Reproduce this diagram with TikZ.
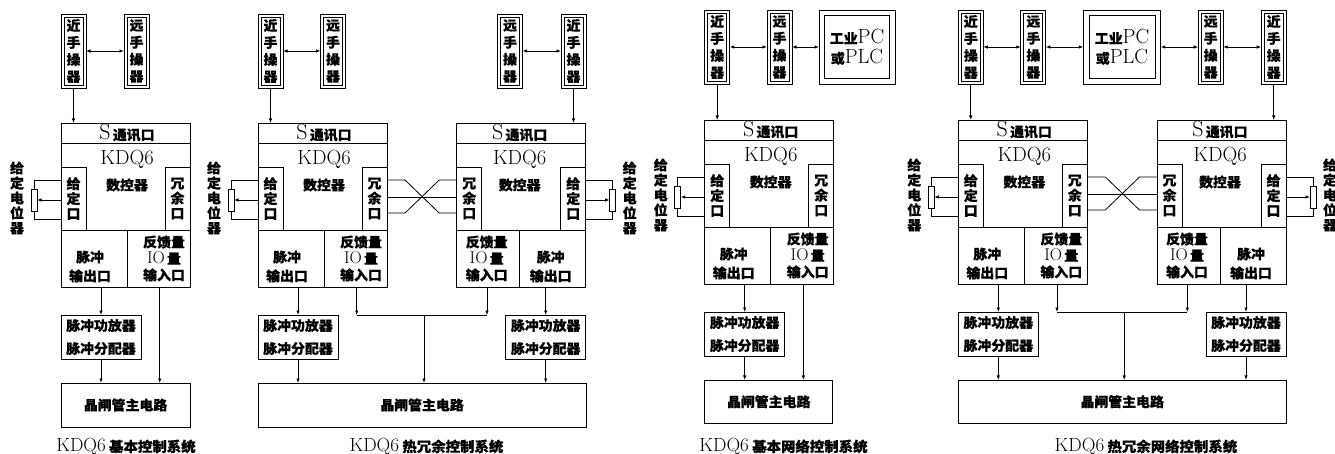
\documentclass[tikz,border=0pt]{standalone}
\usepackage{fontspec}
\newfontfamily\cjk[FakeStretch=1.03,RawFeature={embolden=0.6}]{Noto Sans CJK SC Black}
\usetikzlibrary{arrows.meta,calc}

\tikzset{
	cell/.style={draw, line width=0.8pt, inner sep=0pt, outer sep=0pt},
	txt/.style={font=\cjk\fontsize{13.5}{#1}\selectfont, align=center, inner sep=0pt},
	txt/.default=15,
	captxt/.style={font=\cjk\fontsize{14}{14}\selectfont, inner sep=0pt},
	wire/.style={line width=0.8pt},
	arr/.style={wire, -{Latex[length=4.5pt,width=3.5pt]}},
	darr/.style={wire, {Latex[length=4.5pt,width=3.5pt]}-{Latex[length=4.5pt,width=3.5pt]}},
}

\newcommand{\lat}[2][20.5]{{\normalfont\fontsize{#1}{#1}\selectfont #2}}

% name, x, y: hand-held operator with its two frames
\newcommand{\opbox}[4]{
	\node[cell, minimum width=25pt, minimum height=74pt] (#1) at (#2,#3) {};
	\node[cell, minimum width=19pt, minimum height=68pt, txt=17] (#1in) at (#1) {#4\\手\\操\\器};
}

% name, x, outer width, inner width
\newcommand{\pcbox}[4]{
	\node[cell, minimum width=#3pt, minimum height=74pt] (#1) at (#2,47) {};
	\node[cell, minimum width=#4pt, minimum height=63pt, txt=20] (#1in) at (#1) {工业\lat{PC}\\或\lat{PLC}};
}

% name, x, y, xscale, text x of the two lower cells
\newcommand{\kdqunit}[6]{
\begin{scope}[shift={(#2,#3)}, xscale=#4, name prefix=#1-]
	\node[cell, minimum width=129pt, minimum height=164pt] (body) at (64.5,82) {};
	\node[cell, minimum width=129pt, minimum height=20pt] (sport) at (64.5,10) {};
	\node[txt] (stext) at (66,10) {\lat[22]{S}\,通讯口};
	\node[txt] (kdq) at (66,36.5) {\lat{KDQ6}};
	\node[txt] (cnc) at (66,62) {数控器};
	\node[cell, minimum width=25pt, minimum height=63pt, txt] (gport) at (12.5,75.5) {给\\定\\口};
	\node[cell, minimum width=25pt, minimum height=63pt, txt] (rport) at (116.5,75.5) {冗\\余\\口};
	\node[cell, minimum width=66pt, minimum height=57pt] (pulse) at (33,135.5) {};
	\node[cell, minimum width=63pt, minimum height=57pt] (fb) at (97.5,135.5) {};
	\node[txt=19] (pulsetext) at (#5,143.5) {脉冲\\输出口};
	\node[txt=16.5] (fbtext) at (#6,135.5) {反馈量\\\lat[17]{IO}\,量\\输入口};
	\node[cell, minimum width=80pt, minimum height=44pt, txt=23] (amp) at (40,214) {脉冲功放器\\脉冲分配器};

	% potentiometer
	\node[cell, minimum width=6pt, minimum height=22pt] (pot) at (-27,77) {};
	\node[txt] (potname) at (-44,75) {给\\定\\电\\位\\器};
	\coordinate (gtop) at (0,57);
	\coordinate (gmid) at (0,77);
	\coordinate (gbot) at (0,96);
	\draw[wire] (gtop) -| (pot.north);
	\draw[wire] (gbot) -| (pot.south);
	\draw[arr] (gmid) -- (pot);

	% free ends
	\coordinate (rtop) at (129,57);
	\coordinate (rmid) at (129,74);
	\coordinate (rbot) at (129,90);
	\coordinate (fbout) at (98.7,164);

	\draw[arr] (amp.north |- pulse.south) -- (amp.north);
\end{scope}
}

% the three crossed wires
\newcommand{\crosswires}[2]{
	\draw[wire] (#1-rtop) -- ++(18,0) -- ($(#2-rbot)+(-17.5,0)$) -- (#2-rbot);
	\draw[wire] (#1-rbot) -- ++(18,0) -- ($(#2-rtop)+(-17.5,0)$) -- (#2-rtop);
	\draw[wire] (#1-rmid) -- (#2-rmid);
}

\begin{document}
\begin{tikzpicture}[x=1pt, y=-1pt]
\useasboundingbox (0,0) rectangle (1335,454);

% Basic system
\kdqunit{a}{61}{123}{1}{29}{103}
\opbox{neara}{73.5}{51}{近}
\opbox{fara}{136.5}{51}{远}
\node[cell, minimum width=129pt, minimum height=44pt, txt] (tha) at (125.5,405) {晶闸管主电路};
\node[captxt] (capa) at (126,447) {\lat[19]{KDQ6}\ 基本控制系统};
\draw[darr] (neara) -- (fara);
\draw[arr] (a-fbout) -- (a-fbout |- tha.north);

% Redundant system
\kdqunit{b}{258}{123}{1}{29}{103}
\kdqunit{c}{585.7}{123}{-1}{35}{99}
\opbox{nearb}{270.5}{51}{近}
\opbox{farb}{333}{51}{远}
\opbox{farc}{510}{51}{远}
\opbox{nearc}{573.5}{51}{近}
\node[cell, minimum width=328pt, minimum height=44pt, txt] (thb) at (422,405) {晶闸管主电路};
\node[captxt] (capb) at (426.5,447) {\lat[19]{KDQ6}\ 热冗余控制系统};
\draw[darr] (nearb) -- (farb);
\draw[darr] (farc) -- (nearc);
\crosswires{b}{c}
\draw[arr] (b-fbout) -- (b-fbout |- b-amp.north);
\draw[arr] (c-fbout) -- (c-fbout |- c-amp.north);
\draw[wire] (b-fbout |- b-amp.north) -- (c-fbout |- c-amp.north);
\draw[arr] ([xshift=2pt]thb.north |- b-amp.north) -- ([xshift=2pt]thb.north);

% Basic network system
\kdqunit{d}{704.7}{120}{1}{29}{103}
\opbox{neard}{717.2}{47}{近}
\opbox{fard}{779.5}{47}{远}
\pcbox{pcd}{857}{76}{65}
\node[cell, minimum width=128pt, minimum height=43.5pt, txt] (thd) at (768.7,401.7) {晶闸管主电路};
\node[captxt] (capd) at (783.5,447) {\lat[19]{KDQ6}\ 基本网络控制系统};
\draw[darr] (neard) -- (fard);
\draw[darr] (fard) -- (pcd);
\draw[arr] (d-fbout) -- (d-fbout |- thd.north);

% Redundant network system
\kdqunit{e}{958.3}{120}{1}{29}{103}
\kdqunit{f}{1286}{120}{-1}{35}{99}
\opbox{neare}{970.8}{47}{近}
\opbox{fare}{1033.3}{47}{远}
\pcbox{pce}{1122}{77.4}{66}
\opbox{farf}{1210.7}{47}{远}
\opbox{nearf}{1273.7}{47}{近}
\node[cell, minimum width=327.7pt, minimum height=43.5pt, txt] (the) at (1122.2,401.7) {晶闸管主电路};
\node[captxt] (cape) at (1146,447) {\lat[19]{KDQ6}\ 热冗余网络控制系统};
\draw[darr] (neare) -- (fare);
\draw[darr] (fare) -- (pce);
\draw[darr] (pce) -- (farf);
\draw[darr] (farf) -- (nearf);
\crosswires{e}{f}
\draw[arr] (e-fbout) -- (e-fbout |- e-amp.north);
\draw[arr] (f-fbout) -- (f-fbout |- f-amp.north);
\draw[wire] (e-fbout |- e-amp.north) -- (f-fbout |- f-amp.north);
\draw[arr] ([xshift=2pt]the.north |- e-amp.north) -- ([xshift=2pt]the.north);

% Links shared by the four systems
\foreach \n/\u in {neara/a, nearb/b, nearc/c, neard/d, neare/e, nearf/f}
	\draw[arr] (\n.south) -- (\n.south |- \u-sport.north);

\foreach \u/\t in {a/tha, b/thb, c/thb, d/thd, e/the, f/the}
	\draw[arr] (\u-amp.south) -- (\u-amp.south |- \t.north);
\end{tikzpicture}
\end{document}
